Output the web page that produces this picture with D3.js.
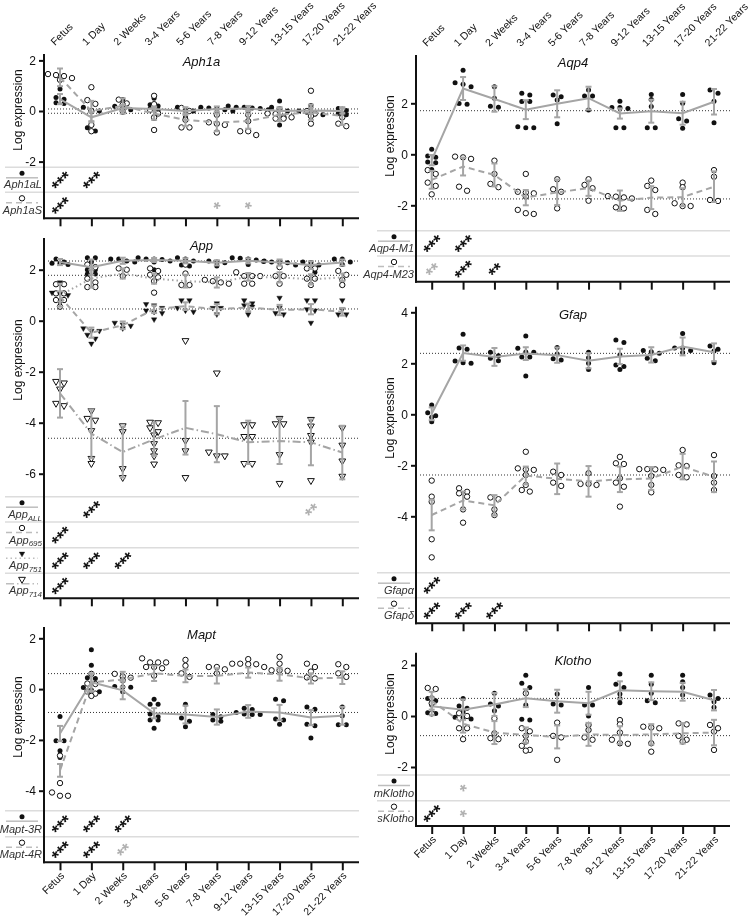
<!DOCTYPE html>
<html>
<head>
<meta charset="utf-8">
<script src="https://cdn.jsdelivr.net/npm/d3@7/dist/d3.min.js"></script>
<style>
  body { margin: 0; background: #fff; }
  svg { will-change: transform; }
  svg text { font-family: "Liberation Sans", Arial, sans-serif; }
</style>
</head>
<body>
<svg id="chart" width="756" height="921"></svg>
<script>
// age groups (x axis)
const categories = ['Fetus', '1 Day', '2 Weeks', '3-4 Years', '5-6 Years', '7-8 Years',
  '9-12 Years', '13-15 Years', '17-20 Years', '21-22 Years'];

// ---- Aph1a ----
const aph1aLPts = [[0.87,0.30,0.46,0.53,0.33],[0.15,0.02,0.0,-0.66,-0.79],[0.45,0.19,0.14,0.05,-0.05],
  [0.5,0.25,0.2,0.08,0.02,-0.3],[0.15,0.02,0.0,-0.25],[0.15,0.12,0.1,0.0,0.05],[0.15,0.2,0.15,0.12,0.05,0.1],
  [0.4,0.15,0.1,0.0,-0.55],[0.22,0.0,-0.05,-0.12,-0.15],[0.1,0.02,-0.1,-0.15]];
const aph1aLMean = [0.47,-0.25,0.12,0.08,0.0,0.08,0.1,0.0,0.02,0.0];
const aph1aLErr = [0.2,0.2,0.12,0.1,0.15,0.1,0.1,0.15,0.12,0.1];
const aph1aSPts = [[1.23,1.46,1.38,1.42,1.30],[0.94,0.43,0.28,0.0,-0.55,-0.8],[0.45,0.3,0.25,0.0],
  [0.6,0.27,0.05,-0.1,-0.25,-0.75],[0.12,0.0,-0.35,-0.65,-0.65],[-0.15,-0.45,-0.5,-0.55,-0.85],
  [-0.15,-0.4,-0.8,-0.8,-0.95],[-0.1,-0.12,-0.25,-0.3,-0.25,-0.3],[0.8,0.0,-0.1,-0.2,-0.5],[0.05,-0.25,-0.5,-0.6]];
const aph1aSMean = [1.33,0.0,0.2,-0.1,-0.35,-0.45,-0.4,-0.15,-0.05,-0.2];
const aph1aSErr = [0.35,0.4,0.3,0.25,0.25,0.35,0.3,0.25,0.3,0.35];
const aph1aRefs = [0.08,-0.09];
// "~" = grey mark
const aph1aLSig = ['***','***','','','','','','','',''];
const aph1aSSig = ['***','','','','','~*','~*','','',''];

// ---- App ----
const appAllPts = [[2.42,2.3,2.25,2.25,2.2],[2.47,2.47,2.3,2.0,2.0,1.83,1.83],[2.42,2.42,2.34,2.3],
  [2.47,2.42,2.42,2.4,2.34,2.3,2.0],[2.47,2.42,2.34,2.18,2.15],[2.34,2.3,2.27,2.15],
  [2.47,2.45,2.42,2.38,2.34,2.2],[2.32,2.3,2.3,2.27,2.18],[2.3,2.28,2.18,2.04,1.9],[2.42,2.42,2.3,2.2]];
const appAllMean = [2.3,2.1,2.35,2.38,2.35,2.27,2.35,2.28,2.18,2.28];
const appAllErr = [0.12,0.3,0.12,0.08,0.1,0.1,0.1,0.12,0.15,0.12];
const app695Pts = [[1.43,1.43,1.07,1.07,0.81,0.81,0.55],[2.2,2.1,1.65,1.5,1.32,1.32],[2.05,2.0,1.75],
  [2.05,1.95,1.8,1.7,1.55,1.1],[2.2,1.85,1.4,1.4],[1.6,1.55,1.5,1.45],[1.9,1.75,1.75,1.75,1.45,1.45],
  [2.1,1.75,1.75,1.45],[2.05,2.05,1.65,1.65,1.4],[1.95,1.8,1.6,1.4]];
const app695Mean = [1.0,1.65,1.85,1.65,1.55,1.5,1.72,1.7,1.62,1.7];
const app695Err = [0.45,0.35,0.2,0.2,0.25,0.2,0.15,0.2,0.2,0.15];
const app751Pts = [[1.5,1.1,1.05,1.0,0.7],[-0.3,-0.4,-0.4,-0.55,-0.7,-0.9],[-0.08,-0.15,-0.2,-0.3],
  [0.65,0.6,0.5,0.4,0.35,0.3,0.05],[0.8,0.8,0.5,0.4,0.35],[0.68,0.5,0.5,0.25],[0.8,0.68,0.6,0.55,0.25],
  [0.9,0.5,0.3,0.25],[0.8,0.8,0.45,0.4,-0.08],[0.8,0.45,0.25,0.25]];
const app751Mean = [0.95,-0.47,-0.18,0.45,0.57,0.45,0.52,0.42,0.45,0.35];
const app751Err = [0.2,0.2,0.15,0.15,0.15,0.2,0.15,0.2,0.2,0.15];
const app714Pts = [[-2.44,-2.38,-2.68,-3.33,-3.24],[-3.53,-3.9,-3.83,-4.31,-5.4,-5.6],[-4.12,-4.35,-5.8,-6.15],
  [-3.98,-4.0,-4.2,-4.35,-4.48,-4.82,-5.1,-5.3,-5.62],[-0.78,-4.7,-5.1,-6.15],[-2.05,-5.15,-5.3,-5.3],
  [-4.08,-4.08,-4.54,-4.54,-5.6,-5.6],[-3.83,-4.04,-4.04,-5.25,-6.38],[-3.87,-4.13,-4.5,-4.76,-6.27],
  [-4.2,-4.88,-5.5,-6.1]];
const app714Mean = [-2.85,-4.43,-5.15,-4.65,-4.2,-4.45,-4.77,-4.72,-4.77,-5.17];
const app714Err = [0.95,0.95,1.0,0.65,1.05,1.1,0.85,0.9,0.9,1.05];
const appRefs = [2.34,1.78,0.46,-4.61];
const appAllSig = ['','***','','','','','','','~**',''];
const app695Sig = ['***','','','','','','','','',''];
const app751Sig = ['***','***','***','','','','','','',''];
const app714Sig = ['***','','','','','','','','',''];

// ---- Mapt ----
const mapt3RPts = [[-1.08,-2.03,-2.03,-2.43,-2.69],[1.55,0.94,0.45,0.42,-0.04,-0.1,0.06],[0.1,0.08,0.07,-0.1],
  [-0.4,-0.6,-0.6,-0.98,-1.09,-1.22,-1.22,-1.54],[-0.6,-1.14,-1.27,-1.48],[-1.0,-1.09,-1.22,-1.27],
  [-0.75,-0.8,-0.92,-0.98,-1.0,-1.0],[-0.4,-0.46,-1.18,-1.22,-1.38],[-0.7,-0.79,-1.38,-1.44,-1.93],
  [-0.7,-1.05,-1.4,-1.4]];
const mapt3RMean = [-1.75,0.27,-0.05,-0.95,-1.0,-1.1,-0.88,-0.92,-1.12,-1.05];
const mapt3RErr = [0.3,0.35,0.35,0.2,0.35,0.3,0.25,0.3,0.3,0.35];
const mapt4RPts = [[-2.62,-3.7,-4.07,-4.2,-4.2],[0.6,0.22,0.2,-0.1,-0.18,-0.27],[0.6,0.5,0.45,0.35],
  [1.21,1.05,1.05,1.05,0.87,0.82,0.87,0.53],[1.15,0.92,0.62,0.48],[0.87,0.87,0.78,0.62],
  [1.18,1.0,0.98,1.0,0.98,0.87],[1.27,1.0,0.74,0.72,0.74],[1.0,0.87,0.69,0.46,0.42],[0.98,0.87,0.62,0.48]];
const mapt4RMean = [-3.2,0.26,0.38,0.62,0.52,0.52,0.65,0.58,0.42,0.45];
const mapt4RErr = [0.25,0.35,0.3,0.3,0.25,0.3,0.2,0.25,0.2,0.25];
const maptRefs = [0.61,-0.92];
const mapt3RSig = ['***','***','***','','','','','','',''];
const mapt4RSig = ['***','***','~**','','','','','','',''];

// ---- Aqp4 ----
const aqp4M1Pts = [[0.2,-0.07,-0.12,-0.3,-0.33,-0.6],[3.3,2.81,2.75,2.65,1.99,1.96],[2.65,2.2,1.88,1.85],
  [2.39,2.33,2.07,2.07,1.08,1.04,1.04],[2.33,2.26,2.13,1.2],[2.52,2.29,2.29,1.74],
  [2.08,1.84,1.84,1.8,1.04,1.04],[2.35,2.15,1.87,1.04,1.04],[2.35,2.0,1.39,1.31,1.02],[2.52,2.39,2.08,1.24]];
const aqp4M1Mean = [-0.23,2.58,2.17,1.75,1.98,2.2,1.6,1.69,1.61,2.06];
const aqp4M1Err = [0.2,0.45,0.5,0.37,0.53,0.45,0.2,0.45,0.45,0.5];
const aqp4M23Pts = [[-0.62,-0.77,-1.11,-1.24,-1.57],[-0.09,-0.12,-0.18,-1.27,-1.43],[-0.25,-0.77,-1.16,-1.29],
  [-0.77,-1.47,-1.5,-1.53,-1.66,-2.18,-2.31,-2.34],[-0.98,-1.37,-1.47,-2.12],[-0.98,-1.2,-1.33,-1.82],
  [-1.64,-1.66,-1.69,-1.73,-2.08,-2.12],[-1.03,-1.24,-1.4,-2.18,-2.34],[-1.11,-1.29,-1.92,-2.03,-2.03],
  [-0.62,-0.88,-1.79,-1.83]];
const aqp4M23Mean = [-1.0,-0.48,-0.81,-1.7,-1.49,-1.33,-1.82,-1.7,-1.68,-1.27];
const aqp4M23Err = [0.35,0.35,0.45,0.3,0.5,0.3,0.4,0.45,0.35,0.6];
const aqp4Refs = [1.71,-1.75];
const aqp4M1Sig = ['***','***','','','','','','','',''];
const aqp4M23Sig = ['~**','***','**','','','','','','',''];

// ---- Gfap ----
const gfapAPts = [[0.36,0.06,-0.06,-0.12,-0.29],[3.14,2.6,2.55,2.09,2.02,2.0],[2.43,2.3,2.2,2.1],
  [3.07,2.59,2.44,2.43,2.25,2.25,1.5],[2.62,2.36,2.18,2.13],[2.43,2.22,2.0,1.76],
  [2.91,2.82,2.33,1.93,1.87,1.76],[2.5,2.45,2.39,2.2,2.1],[3.17,2.6,2.6,2.5,2.42],[2.68,2.55,2.48,2.02]];
const gfapAMean = [0.02,2.4,2.25,2.38,2.32,2.1,2.27,2.33,2.66,2.43];
const gfapAErr = [0.25,0.3,0.35,0.25,0.3,0.3,0.3,0.3,0.35,0.35];
const gfapDPts = [[-2.6,-3.23,-3.43,-4.9,-5.61],[-2.9,-3.04,-3.1,-3.23,-3.73,-4.25],[-3.26,-3.33,-3.73,-3.95],
  [-1.47,-2.12,-2.16,-2.18,-2.38,-2.77,-2.97,-3.03],[-2.25,-2.38,-2.68,-2.81],[-2.31,-2.73,-2.73,-2.77],
  [-1.67,-1.92,-1.95,-2.51,-2.68,-2.84,-3.62],[-2.15,-2.15,-2.16,-2.18,-2.42,-2.77,-3.06],
  [-1.4,-2.0,-2.03,-2.38,-2.47],[-1.6,-2.42,-2.68,-2.97]];
const gfapDMean = [-3.95,-3.38,-3.57,-2.4,-2.53,-2.63,-2.55,-2.52,-2.05,-2.45];
const gfapDErr = [0.6,0.35,0.4,0.35,0.6,0.6,0.5,0.45,0.5,0.6];
const gfapRefs = [2.39,-2.38];
const gfapASig = ['***','','','','','','','','',''];
const gfapDSig = ['***','***','***','','','','','','',''];

// ---- Klotho ----
const mKlothoPts = [[0.69,0.6,0.43,0.13,0.1],[0.69,0.39,0.3,0.17,-0.05,-0.05,-0.12],[0.89,0.47,0.39,0.21],
  [1.6,1.28,1.12,0.91,0.43,-0.13,-0.16],[0.86,0.47,0.43],[1.12,0.43,0.43,0.0],
  [1.65,1.25,1.12,0.86,0.69,0.52],[1.6,1.25,0.89,0.6,0.52],[1.6,1.34,1.12,0.82],[0.82,0.69,0.56,0.34]];
const mKlothoMean = [0.38,0.25,0.45,0.7,0.58,0.5,1.01,0.97,0.95,0.62];
const mKlothoErr = [0.35,0.4,0.45,0.35,0.45,0.45,0.35,0.35,0.35,0.4];
const sKlothoPts = [[1.1,1.06,0.69,0.5,0.1],[0.11,0.0,-0.48,-0.48,-0.91],[-0.1,-0.68,-0.87,-0.91],
  [0.89,-0.48,-0.6,-0.78,-1.0,-1.17,-1.33,-1.36],[-0.26,-0.78,-0.84,-1.72],[-0.35,-0.55,-0.84,-0.93],
  [-0.16,-0.33,-0.65,-0.93,-1.07,-1.09],[-0.42,-0.45,-0.48,-1.07,-1.4],[-0.29,-0.33,-0.78,-0.93,-1.0],
  [-0.35,-0.48,-0.61,-1.33]];
const sKlothoMean = [0.6,-0.3,-0.65,-0.75,-0.82,-0.72,-0.75,-0.72,-0.68,-0.65];
const sKlothoErr = [0.35,0.35,0.45,0.3,0.45,0.45,0.35,0.4,0.4,0.5];
const klothoRefs = [0.69,-0.77];
const mKlothoSig = ['','~*','','','','','','','',''];
const sKlothoSig = ['***','~*','','','','','','','',''];

// ---------- layout ----------
const GREY = '#a5a5a5';
const DASH = { solid: null, dashed: '6,4', dotted: '1.5,3', dashdot: '8,3,1.5,3' };
const cols = [
  { axisX: 44, x0: 60, x1: 342.3, end: 359 },
  { axisX: 416, x0: 431.7, x1: 714, end: 730 }
];
const ser = (label, sub, mark, line, legendLine, pts, mean, err, sig) =>
  ({ label, sub, mark, line, legendLine, pts, mean, err, sig });

const panels = [
  { title: 'Aph1a', col: 0, top: 54, domain: [-2, 2], range: [161.6, 60.4], ticks: [2, 0, -2],
    refs: aph1aRefs, rows: [167.3, 192.3, 218.3], labels: 'top', labelY: 110,
    series: [ser('Aph1aL', null, 'dot', 'solid', 'solid', aph1aLPts, aph1aLMean, aph1aLErr, aph1aLSig),
             ser('Aph1aS', null, 'circle', 'dashed', 'dashed', aph1aSPts, aph1aSMean, aph1aSErr, aph1aSSig)] },
  { title: 'App', col: 0, top: 238, domain: [-6, 2], range: [473.7, 269.7], ticks: [2, 0, -2, -4, -6],
    refs: appRefs, rows: [496.7, 522, 547.7, 573.3, 598.3], labels: null, labelY: 360,
    series: [ser('App', 'ALL', 'dot', 'solid', 'solid', appAllPts, appAllMean, appAllErr, appAllSig),
             ser('App', '695', 'circle', 'dotted', 'dashed', app695Pts, app695Mean, app695Err, app695Sig),
             ser('App', '751', 'tri', 'dashed', 'dotted', app751Pts, app751Mean, app751Err, app751Sig),
             ser('App', '714', 'otri', 'dashdot', 'dashdot', app714Pts, app714Mean, app714Err, app714Sig)] },
  { title: 'Mapt', col: 0, top: 627, domain: [-4, 2], range: [790.7, 638.3], ticks: [2, 0, -2, -4],
    refs: maptRefs, rows: [810.7, 836.7, 862.3], labels: 'bottom', labelY: 717,
    series: [ser('Mapt-3R', null, 'dot', 'solid', 'solid', mapt3RPts, mapt3RMean, mapt3RErr, mapt3RSig),
             ser('Mapt-4R', null, 'circle', 'dashed', 'dashed', mapt4RPts, mapt4RMean, mapt4RErr, mapt4RSig)] },
  { title: 'Aqp4', col: 1, top: 55, domain: [-2, 2], range: [205.3, 103.3], ticks: [2, 0, -2],
    refs: aqp4Refs, rows: [230.7, 256, 281.7], labels: 'top', labelY: 136,
    series: [ser('Aqp4-M1', null, 'dot', 'solid', 'solid', aqp4M1Pts, aqp4M1Mean, aqp4M1Err, aqp4M1Sig),
             ser('Aqp4-M23', null, 'circle', 'dashed', 'dashed', aqp4M23Pts, aqp4M23Mean, aqp4M23Err, aqp4M23Sig)] },
  { title: 'Gfap', col: 1, top: 306.7, domain: [-4, 4], range: [516.3, 312.3], ticks: [4, 2, 0, -2, -4],
    refs: gfapRefs, rows: [572.7, 597.7, 623.3], labels: null, labelY: 418,
    series: [ser('Gfap\u03B1', null, 'dot', 'solid', 'solid', gfapAPts, gfapAMean, gfapAErr, gfapASig),
             ser('Gfap\u03B4', null, 'circle', 'dashed', 'dashed', gfapDPts, gfapDMean, gfapDErr, gfapDSig)] },
  { title: 'Klotho', col: 1, top: 652.7, domain: [-2, 2], range: [767, 665], ticks: [2, 0, -2],
    refs: klothoRefs, rows: [775, 800.7, 826], labels: 'bottom', labelY: 714,
    series: [ser('mKlotho', null, 'dot', 'solid', 'solid', mKlothoPts, mKlothoMean, mKlothoErr, mKlothoSig),
             ser('sKlotho', null, 'circle', 'dashed', 'dashed', sKlothoPts, sKlothoMean, sKlothoErr, sKlothoSig)] }
];

const svg = d3.select('#chart');

// draw one marker
function drawMark(g, kind, x, y) {
  if (kind === 'dot') {
    g.append('circle').attr('cx', x).attr('cy', y).attr('r', 2.5).attr('fill', '#111');
  } else if (kind === 'circle') {
    g.append('circle').attr('cx', x).attr('cy', y).attr('r', 2.7)
      .attr('fill', '#fff').attr('stroke', '#111').attr('stroke-width', 1);
  } else {
    const sym = d3.symbol().type(d3.symbolTriangle).size(kind === 'tri' ? 13 : 20);
    g.append('path').attr('d', sym())
      .attr('transform', `translate(${x},${y}) rotate(180)`)
      .attr('fill', kind === 'tri' ? '#111' : '#fff')
      .attr('stroke', '#111').attr('stroke-width', kind === 'tri' ? 0.4 : 1);
  }
}

// spread points that sit on the same level, like a column scatter
function spread(vals, y) {
  const s = vals.map(v => ({ v, py: y(v) })).sort((a, b) => a.py - b.py);
  const out = [];
  let grp = [];
  const flush = () => {
    grp.forEach((p, i) => out.push({ py: p.py, dx: (i - (grp.length - 1) / 2) * 8 }));
    grp = [];
  };
  s.forEach(p => {
    if (grp.length && p.py - grp[0].py > 4.2) flush();
    grp.push(p);
  });
  flush();
  return out;
}

panels.forEach(p => {
  const c = cols[p.col];
  const x = d3.scalePoint().domain(categories).range([c.x0, c.x1]);
  const y = d3.scaleLinear().domain(p.domain).range(p.range);
  const g = svg.append('g');
  const bottom = p.rows[p.rows.length - 1];

  // grey separators of the significance rows
  p.rows.slice(0, -1).forEach(ry => {
    g.append('line').attr('x1', c.axisX - 39).attr('x2', c.end).attr('y1', ry).attr('y2', ry)
      .attr('stroke', '#dcdcdc').attr('stroke-width', 1.5);
  });

  // adult reference lines
  p.refs.forEach(v => {
    g.append('line').attr('x1', c.axisX + 4).attr('x2', c.end).attr('y1', y(v)).attr('y2', y(v))
      .attr('stroke', '#333').attr('stroke-width', 1).attr('stroke-dasharray', '1,2');
  });

  // individual points
  const pg = g.append('g');
  p.series.forEach(s => {
    s.pts.forEach((vals, i) => {
      spread(vals, y).forEach(pt => drawMark(pg, s.mark, x(categories[i]) + pt.dx, pt.py));
    });
  });

  // mean lines and error bars
  p.series.forEach(s => {
    const line = d3.line().x((d, i) => x(categories[i])).y(d => y(d));
    g.append('path').attr('d', line(s.mean)).attr('fill', 'none')
      .attr('stroke', GREY).attr('stroke-width', 2)
      .attr('stroke-dasharray', DASH[s.line]);
    s.mean.forEach((m, i) => {
      const cx = x(categories[i]);
      const eg = g.append('g').attr('stroke', GREY).attr('stroke-width', 2);
      eg.append('line').attr('x1', cx).attr('x2', cx).attr('y1', y(m + s.err[i])).attr('y2', y(m - s.err[i]));
      [m + s.err[i], m - s.err[i]].forEach(v => {
        eg.append('line').attr('x1', cx - 3).attr('x2', cx + 3).attr('y1', y(v)).attr('y2', y(v));
      });
    });
  });

  // y axis
  const ya = g.append('g').attr('transform', `translate(${c.axisX},0)`)
    .call(d3.axisLeft(y).tickValues(p.ticks).tickSize(5).tickPadding(3).tickFormat(d => String(d)));
  ya.select('.domain').remove();
  ya.selectAll('.tick line').attr('stroke', '#111').attr('stroke-width', 2);
  ya.selectAll('.tick text').attr('font-size', 12).style('fill', '#111')
    .attr('font-family', '"Liberation Sans", Arial, sans-serif');
  g.append('line').attr('x1', c.axisX).attr('x2', c.axisX).attr('y1', p.top).attr('y2', bottom + 1)
    .attr('stroke', '#111').attr('stroke-width', 2);

  // x axis at the bottom
  const xa = g.append('g').attr('transform', `translate(0,${bottom})`)
    .call(d3.axisBottom(x).tickSize(8).tickFormat(''));
  xa.select('.domain').remove();
  xa.selectAll('.tick line').attr('stroke', '#111').attr('stroke-width', 2);
  g.append('line').attr('x1', c.axisX - 1).attr('x2', c.end).attr('y1', bottom).attr('y2', bottom)
    .attr('stroke', '#111').attr('stroke-width', 2);

  // category labels
  if (p.labels === 'top') {
    categories.forEach(cat => {
      g.append('text').attr('transform', `translate(${x(cat) - 5},${p.top - 8}) rotate(-45)`)
        .attr('font-size', 10.5).style('fill', '#111').text(cat);
    });
  } else if (p.labels === 'bottom') {
    categories.forEach(cat => {
      g.append('text').attr('transform', `translate(${x(cat) + 5},${bottom + 14}) rotate(-45)`)
        .attr('text-anchor', 'end').attr('font-size', 10.5).style('fill', '#111').text(cat);
    });
  }

  // title and y label
  g.append('text').attr('x', (c.axisX + c.end) / 2).attr('y', p.top + 12)
    .attr('text-anchor', 'middle').attr('font-size', 13).attr('font-style', 'italic')
    .style('fill', '#111').text(p.title);
  g.append('text').attr('transform', `translate(${c.axisX - 22},${p.labelY}) rotate(-90)`)
    .attr('text-anchor', 'middle').attr('font-size', 12).style('fill', '#111').text('Log expression');

  // significance rows with legend
  p.series.forEach((s, k) => {
    const rTop = p.rows[k], rBot = p.rows[k + 1], rMid = (rTop + rBot) / 2;
    g.append('line').attr('x1', c.axisX - 38).attr('x2', c.axisX - 6)
      .attr('y1', rTop + 10.5).attr('y2', rTop + 10.5)
      .attr('stroke', '#bdbdbd').attr('stroke-width', 1.5).attr('stroke-dasharray', DASH[s.legendLine]);
    drawMark(g, s.mark, c.axisX - 22, rTop + 6);
    const t = g.append('text').attr('x', c.axisX - 2).attr('y', rBot - 4)
      .attr('text-anchor', 'end').attr('font-size', 11).attr('font-style', 'italic').style('fill', '#333');
    t.append('tspan').text(s.label);
    if (s.sub) t.append('tspan').attr('font-size', 8).attr('dy', 2.5).text(s.sub);

    s.sig.forEach((m, i) => {
      if (!m) return;
      const grey = m.startsWith('~');
      const txt = grey ? m.slice(1) : m;
      g.append('text').attr('transform', `translate(${x(categories[i])},${rMid}) rotate(-45)`)
        .attr('text-anchor', 'middle').attr('y', 9).attr('font-size', 18).attr('font-weight', 'bold')
        .style('fill', grey ? '#b0b0b0' : '#111').text(txt);
    });
  });
});
</script>
</body>
</html>
